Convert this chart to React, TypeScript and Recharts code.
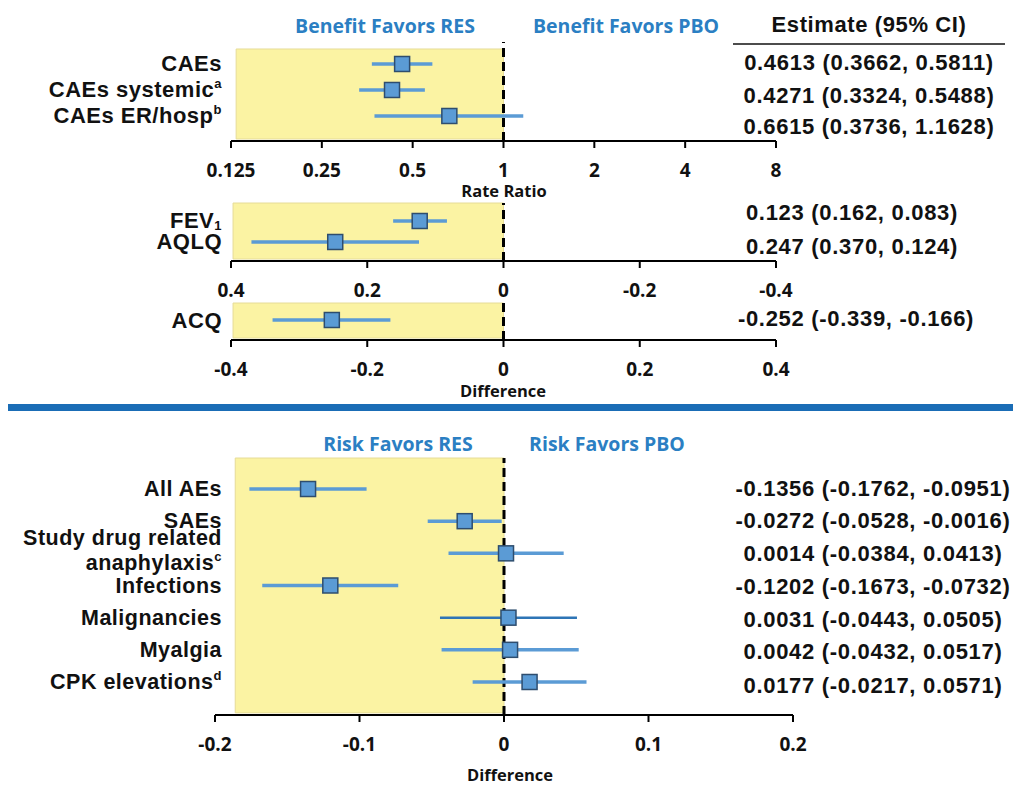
import React from 'react';
import { ScatterChart, Scatter, XAxis, YAxis, ReferenceArea, ReferenceLine, ErrorBar } from 'recharts';

const PAGE_W = 1014;
const PAGE_H = 785;

// ---- Panel 1: rate ratios (log scale)
const rateLabels = ['CAEs', 'CAEs systemic', 'CAEs ER/hosp'];
const rateNotes = ['', 'a', 'b'];
const rateEst = [0.4613, 0.4271, 0.6615];
const rateLow = [0.3662, 0.3324, 0.3736];
const rateHigh = [0.5811, 0.5488, 1.1628];
const rateTicks = [0.125, 0.25, 0.5, 1, 2, 4, 8];

// ---- Panel 2: FEV1 / AQLQ differences (reversed axis)
const fevLabels = ['FEV', 'AQLQ'];
const fevSubs = ['1', ''];
const fevEst = [0.123, 0.247];
const fevLow = [0.083, 0.124];
const fevHigh = [0.162, 0.37];
const fevTicks = [0.4, 0.2, 0, -0.2, -0.4];

// ---- Panel 3: ACQ difference
const acqLabels = ['ACQ'];
const acqEst = [-0.252];
const acqLow = [-0.339];
const acqHigh = [-0.166];
const acqTicks = [-0.4, -0.2, 0, 0.2, 0.4];

// ---- Panel 4: safety risk differences
const safetyLabels = ['All AEs', 'SAEs', 'Study drug related\nanaphylaxis', 'Infections', 'Malignancies', 'Myalgia', 'CPK elevations'];
const safetyNotes = ['', '', 'c', '', '', '', 'd'];
const safetyEst = [-0.1356, -0.0272, 0.0014, -0.1202, 0.0031, 0.0042, 0.0177];
const safetyLow = [-0.1762, -0.0528, -0.0384, -0.1673, -0.0443, -0.0432, -0.0217];
const safetyHigh = [-0.0951, -0.0016, 0.0413, -0.0732, 0.0505, 0.0517, 0.0571];
const safetyTicks = [-0.2, -0.1, 0, 0.1, 0.2];

const LABEL_FONT = '"Liberation Sans", Arial, sans-serif';
const AXIS_FONT = '"Open Sans", "Noto Sans", sans-serif';
const YELLOW = '#FBF3A3';
const MARK_FILL = '#5B9BD5';
const MARK_STROKE = '#2E4D6E';
const CI_COLOR = '#5B9BD5';
const BLUE_TEXT = '#2B7FC3';

type Row = { row: number; est: number; err: [number, number] };

function buildRows(est: number[], low: number[], high: number[]): Row[] {
  return est.map((e, i) => ({ row: i + 1, est: e, err: [e - low[i], high[i] - e] as [number, number] }));
}

const f3 = (v: number) => v.toFixed(3);
const f4 = (v: number) => v.toFixed(4);

const rateRows = buildRows(rateEst, rateLow, rateHigh);
const fevRows = buildRows(fevEst, fevLow, fevHigh);
const acqRows = buildRows(acqEst, acqLow, acqHigh);
const safetyRows = buildRows(safetyEst, safetyLow, safetyHigh);

const rateText = rateEst.map((e, i) => `${f4(e)} (${f4(rateLow[i])}, ${f4(rateHigh[i])})`);
const fevText = fevEst.map((e, i) => `${f3(e)} (${f3(fevHigh[i])}, ${f3(fevLow[i])})`);
const acqText = acqEst.map((e, i) => `${f3(e)} (${f3(acqLow[i])}, ${f3(acqHigh[i])})`);
const safetyText = safetyEst.map((e, i) => `${f4(e)} (${f4(safetyLow[i])}, ${f4(safetyHigh[i])})`);

type RowTickCfg = {
  labels: string[];
  notes?: string[];
  subs?: string[];
  estimates: string[];
  labelRight: number;
  estCenter: number;
  estShift: number[];
  fontSize?: number;
};

function makeRowTick(cfg: RowTickCfg) {
  return function RowTick(props: any) {
    const { y, payload } = props;
    const i = Math.round(payload.value) - 1;
    if (i < 0 || i >= cfg.labels.length) return null;
    const lines = cfg.labels[i].split('\n');
    const note = (cfg.notes && cfg.notes[i]) || '';
    const sub = (cfg.subs && cfg.subs[i]) || '';
    const gap = 25;
    const y0 = y - (lines.length - 1) * gap * 0.6;
    const fs = cfg.fontSize || 22;
    return (
      <g>
        {lines.map((ln, k) => (
          <text
            key={k}
            x={cfg.labelRight}
            y={y0 + k * gap}
            textAnchor="end"
            dominantBaseline="central"
            fontFamily={LABEL_FONT}
            fontWeight={700}
            fontSize={fs}
            letterSpacing={0.5}
            fill="#111"
          >
            {ln}
            {k === lines.length - 1 && sub ? (
              <tspan dy={4} fontSize={13}>{sub}</tspan>
            ) : null}
            {k === lines.length - 1 && note ? (
              <tspan dy={-7} fontSize={13}>{note}</tspan>
            ) : null}
          </text>
        ))}
        <text
          x={cfg.estCenter}
          y={y + cfg.estShift[i]}
          textAnchor="middle"
          dominantBaseline="central"
          fontFamily={LABEL_FONT}
          fontWeight={700}
          fontSize={22}
          letterSpacing={0.7}
          fill="#111"
        >
          {cfg.estimates[i]}
        </text>
      </g>
    );
  };
}

const AxisTick = (props: any) => {
  const { x, y, payload } = props;
  return (
    <text
      x={x}
      y={y}
      dy={20}
      textAnchor="middle"
      dominantBaseline="central"
      fontFamily={AXIS_FONT}
      fontWeight={700}
      fontSize={19}
      fill="#111"
    >
      {String(payload.value)}
    </text>
  );
};

const Square = (p: any) => {
  if (p.cx == null || p.cy == null) return null;
  return (
    <rect
      x={p.cx - 7.5}
      y={p.cy - 7.5}
      width={15}
      height={15}
      fill={MARK_FILL}
      stroke={MARK_STROKE}
      strokeWidth={1.5}
    />
  );
};

const axisLineStyle = { stroke: '#000', strokeWidth: 2 };

const layerStyle: React.CSSProperties = { position: 'absolute', left: 0, top: 0 };

export default function App() {
  const rateTick = makeRowTick({
    labels: rateLabels,
    notes: rateNotes,
    estimates: rateText,
    labelRight: 222,
    estCenter: 869,
    estShift: [-1, 6, 11],
  });
  const fevTick = makeRowTick({
    labels: fevLabels,
    subs: fevSubs,
    estimates: fevText,
    labelRight: 222,
    estCenter: 852,
    estShift: [-8, 5],
  });
  const acqTick = makeRowTick({
    labels: acqLabels,
    estimates: acqText,
    labelRight: 222,
    estCenter: 856,
    estShift: [-2],
  });
  const safetyTick = makeRowTick({
    labels: safetyLabels,
    notes: safetyNotes,
    estimates: safetyText,
    labelRight: 222,
    estCenter: 873,
    estShift: [-1, -1, 0, 1, 2, 2, 4],
    fontSize: 21.5,
  });

  const safetyMain = safetyRows.filter((_, i) => i !== 4);
  const safetyDark = safetyRows.filter((_, i) => i === 4);

  return (
    <div style={{ position: 'absolute', left: 0, top: 0, width: PAGE_W, height: PAGE_H, background: '#fff', overflow: 'hidden' }}>
      {/* Panel 1 */}
      <div style={layerStyle}>
        <ScatterChart width={PAGE_W} height={PAGE_H} margin={{ top: 42, right: 238, bottom: 614, left: 31 }}>
          <XAxis
            type="number"
            dataKey="est"
            scale="log"
            domain={[0.125, 8]}
            ticks={rateTicks}
            interval={0}
            allowDataOverflow
            axisLine={axisLineStyle}
            tickLine={axisLineStyle}
            tickSize={7}
            tick={AxisTick}
            height={30}
          />
          <YAxis
            type="number"
            dataKey="row"
            domain={[0.154, 3.962]}
            reversed
            ticks={[1, 2, 3]}
            interval={0}
            allowDataOverflow
            axisLine={false}
            tickLine={false}
            width={200}
            tick={rateTick}
          />
          <ReferenceArea x1={0.13} x2={1} y1={0.423} y2={3.885} fill={YELLOW} fillOpacity={1} stroke="#E6DC98" strokeWidth={1} />
          <ReferenceLine x={1} stroke="#000" strokeWidth={3} strokeDasharray="9 5" />
          <Scatter data={rateRows} shape={Square} isAnimationActive={false}>
            <ErrorBar dataKey="err" direction="x" width={0} stroke={CI_COLOR} strokeWidth={3.5} />
          </Scatter>
        </ScatterChart>
      </div>

      {/* Panel 2 */}
      <div style={layerStyle}>
        <ScatterChart width={PAGE_W} height={PAGE_H} margin={{ top: 203, right: 238, bottom: 494, left: 31 }}>
          <XAxis
            type="number"
            dataKey="est"
            domain={[-0.4, 0.4]}
            reversed
            ticks={fevTicks}
            interval={0}
            allowDataOverflow
            axisLine={axisLineStyle}
            tickLine={axisLineStyle}
            tickSize={7}
            tick={AxisTick}
            height={30}
          />
          <YAxis
            type="number"
            dataKey="row"
            domain={[0.143, 2.905]}
            reversed
            ticks={[1, 2]}
            interval={0}
            allowDataOverflow
            axisLine={false}
            tickLine={false}
            width={200}
            tick={fevTick}
          />
          <ReferenceArea x1={0.397} x2={0} y1={0.143} y2={2.81} fill={YELLOW} fillOpacity={1} stroke="#E6DC98" strokeWidth={1} />
          <ReferenceLine x={0} stroke="#000" strokeWidth={3} strokeDasharray="9 5" />
          <Scatter data={fevRows} shape={Square} isAnimationActive={false}>
            <ErrorBar dataKey="err" direction="x" width={0} stroke={CI_COLOR} strokeWidth={3.5} />
          </Scatter>
        </ScatterChart>
      </div>

      {/* Panel 3 */}
      <div style={layerStyle}>
        <ScatterChart width={PAGE_W} height={PAGE_H} margin={{ top: 303, right: 238, bottom: 415, left: 31 }}>
          <XAxis
            type="number"
            dataKey="est"
            domain={[-0.4, 0.4]}
            ticks={acqTicks}
            interval={0}
            allowDataOverflow
            axisLine={axisLineStyle}
            tickLine={axisLineStyle}
            tickSize={7}
            tick={AxisTick}
            height={30}
          />
          <YAxis
            type="number"
            dataKey="row"
            domain={[0.15, 2.0]}
            reversed
            ticks={[1]}
            interval={0}
            allowDataOverflow
            axisLine={false}
            tickLine={false}
            width={200}
            tick={acqTick}
          />
          <ReferenceArea x1={-0.397} x2={0} y1={0.15} y2={1.9} fill={YELLOW} fillOpacity={1} stroke="#E6DC98" strokeWidth={1} />
          <ReferenceLine x={0} stroke="#000" strokeWidth={3} strokeDasharray="9 5" />
          <Scatter data={acqRows} shape={Square} isAnimationActive={false}>
            <ErrorBar dataKey="err" direction="x" width={0} stroke={CI_COLOR} strokeWidth={3.5} />
          </Scatter>
        </ScatterChart>
      </div>

      {/* Panel 4 */}
      <div style={layerStyle}>
        <ScatterChart width={PAGE_W} height={PAGE_H} margin={{ top: 458, right: 221, bottom: 40, left: 15 }}>
          <XAxis
            type="number"
            dataKey="est"
            domain={[-0.2, 0.2]}
            ticks={safetyTicks}
            interval={0}
            allowDataOverflow
            axisLine={axisLineStyle}
            tickLine={axisLineStyle}
            tickSize={7}
            tick={AxisTick}
            height={30}
          />
          <YAxis
            type="number"
            dataKey="row"
            domain={[0.036, 8.026]}
            reversed
            ticks={[1, 2, 3, 4, 5, 6, 7]}
            interval={0}
            allowDataOverflow
            axisLine={false}
            tickLine={false}
            width={200}
            tick={safetyTick}
          />
          <ReferenceArea x1={-0.186} x2={0} y1={0.036} y2={7.96} fill={YELLOW} fillOpacity={1} stroke="#E6DC98" strokeWidth={1} />
          <ReferenceLine x={0} stroke="#000" strokeWidth={3} strokeDasharray="9 5" />
          <Scatter data={safetyMain} shape={Square} isAnimationActive={false}>
            <ErrorBar dataKey="err" direction="x" width={0} stroke={CI_COLOR} strokeWidth={3.5} />
          </Scatter>
          <Scatter data={safetyDark} shape={Square} isAnimationActive={false}>
            <ErrorBar dataKey="err" direction="x" width={0} stroke="#2E75B6" strokeWidth={2.5} />
          </Scatter>
        </ScatterChart>
      </div>

      {/* Annotations */}
      <svg width={PAGE_W} height={PAGE_H} style={{ ...layerStyle, pointerEvents: 'none' }}>
        <g fontFamily={AXIS_FONT} fontWeight={700} fontSize={19.5} fill={BLUE_TEXT} textAnchor="middle" dominantBaseline="central">
          <text x={385} y={25}>Benefit Favors RES</text>
          <text x={626} y={25}>Benefit Favors PBO</text>
          <text x={398} y={443}>Risk Favors RES</text>
          <text x={607} y={443}>Risk Favors PBO</text>
        </g>
        <text x={869} y={24} textAnchor="middle" dominantBaseline="central" fontFamily={LABEL_FONT} fontWeight={700} fontSize={22} letterSpacing={0.6} fill="#111">
          Estimate (95% CI)
        </text>
        <line x1={733} x2={1005} y1={44} y2={44} stroke="#111" strokeWidth={1.5} />
        <g fontFamily={AXIS_FONT} fontWeight={700} fontSize={16.5} fill="#111" textAnchor="middle" dominantBaseline="central">
          <text x={504} y={190}>Rate Ratio</text>
          <text x={503} y={390}>Difference</text>
          <text x={510} y={774}>Difference</text>
        </g>
        <rect x={8} y={404} width={1005} height={7} fill="#1A6DB6" />
      </svg>
    </div>
  );
}
